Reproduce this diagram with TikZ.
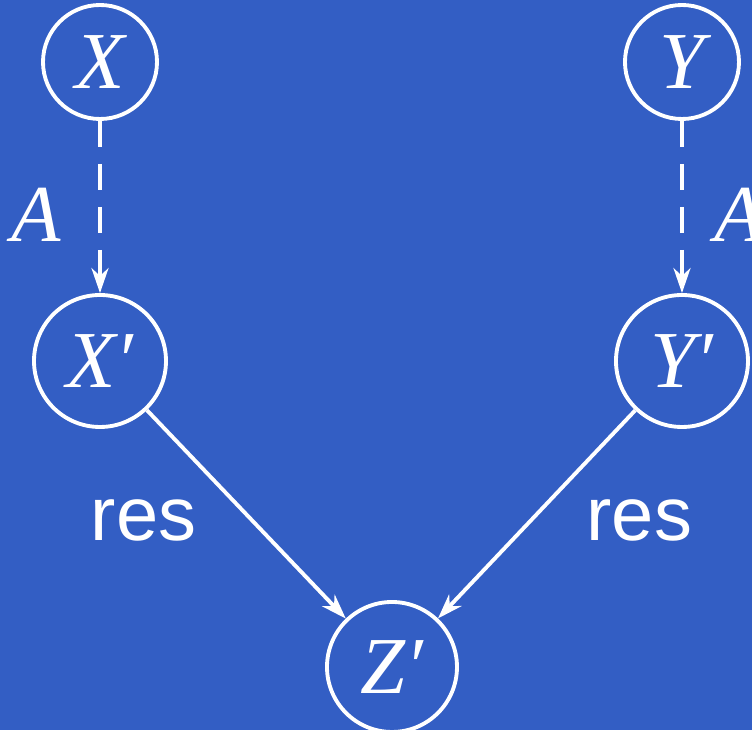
\documentclass[tikz,border=0pt]{standalone}
\usepackage{fontspec}
\setmainfont{Liberation Serif}
\setsansfont{Liberation Sans}
\definecolor{bgblue}{RGB}{51,94,196}
\usetikzlibrary{arrows.meta,positioning}

\begin{document}
\begin{tikzpicture}[
    state/.style={circle, draw=white, line width=1.1pt, inner sep=0pt, text=white,
      font=\fontsize{23}{27}\selectfont\itshape},
    arrow/.style={white, line width=1.1pt, -{Stealth[length=0.25cm, width=0.17cm, inset=0.08cm]}},
    lbl/.style={text=white, inner sep=0pt, font=\fontsize{23}{27}\selectfont}
  ]
    \fill[bgblue] (0,0) rectangle (7.52,7.30);
    \useasboundingbox (0,0) rectangle (7.52,7.30);
    % Top states
    \node[state, minimum size=1.14cm] (x) at (1.00,6.68) {X};
    \node[state, minimum size=1.14cm] (y) at (6.82,6.68) {Y};
    % Primed states
    \node[state, minimum size=1.32cm] (xp) at (1.00,3.69) {X′};
    \node[state, minimum size=1.32cm] (yp) at (6.82,3.69) {Y′};
    \node[state, minimum size=1.30cm] (zp) at (3.92,0.63) {Z′};
    % Maps A
    \draw[arrow, dash pattern=on 0.26cm off 0.17cm] (x) -- node[lbl, left=0.37cm, yshift=-0.08cm]{\itshape A} (xp);
    \draw[arrow, dash pattern=on 0.26cm off 0.17cm] (y) -- node[lbl, right=0.31cm, yshift=-0.08cm]{\itshape A} (yp);
    % Restrictions
    \draw[arrow] (xp) -- node[lbl, left=0.48cm, yshift=-0.06cm]{\fontsize{21.6}{26}\sffamily res} (zp);
    \draw[arrow] (yp) -- node[lbl, right=0.48cm, yshift=-0.06cm]{\fontsize{21.6}{26}\sffamily res} (zp);
  \end{tikzpicture}
\end{document}
